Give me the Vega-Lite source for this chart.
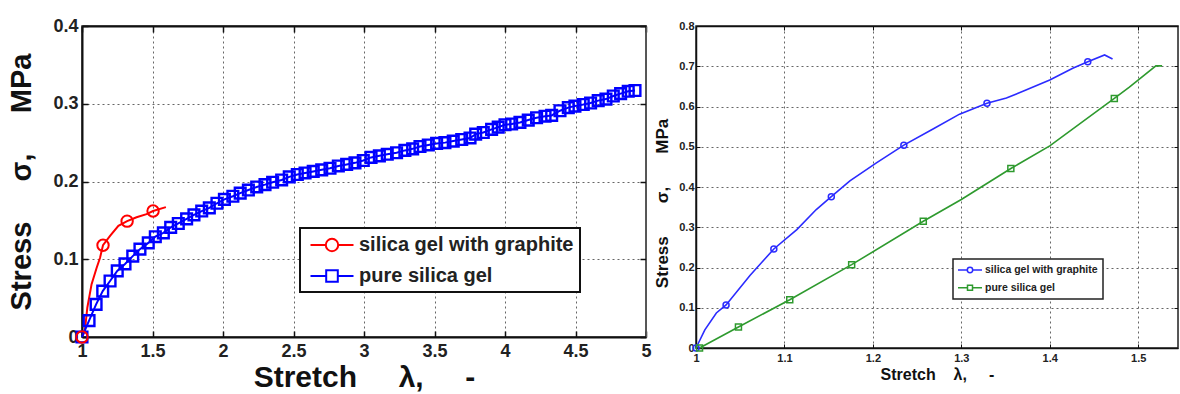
{
  "$schema": "https://vega.github.io/schema/vega-lite/v6.json",
  "background": "white",
  "padding": {"left": 7, "top": 16, "right": 0, "bottom": 0},
  "config": {
    "font": "Liberation Sans",
    "view": {"stroke": "#222", "strokeWidth": 1.5},
    "concat": {"spacing": 0},
    "axis": {
      "labelFont": "Liberation Sans",
      "labelFontWeight": "bold",
      "labelColor": "#222",
      "titleFont": "Liberation Sans",
      "titleFontWeight": "bold",
      "titleColor": "#111",
      "labelOverlap": false,
      "labelFlush": false,
      "labelBound": false,
      "tickColor": "#111",
      "domainColor": "#111",
      "gridColor": "#666",
      "gridDash": [2, 3],
      "gridWidth": 1
    }
  },
  "datasets": {
    "leftLines": [
      {"series": "silica gel with graphite", "stretch": 1.0, "stress": 0.0},
      {"series": "silica gel with graphite", "stretch": 1.02, "stress": 0.008},
      {"series": "silica gel with graphite", "stretch": 1.038, "stress": 0.038},
      {"series": "silica gel with graphite", "stretch": 1.068, "stress": 0.068},
      {"series": "silica gel with graphite", "stretch": 1.104, "stress": 0.089},
      {"series": "silica gel with graphite", "stretch": 1.128, "stress": 0.102},
      {"series": "silica gel with graphite", "stretch": 1.149, "stress": 0.118},
      {"series": "silica gel with graphite", "stretch": 1.199, "stress": 0.13},
      {"series": "silica gel with graphite", "stretch": 1.258, "stress": 0.143},
      {"series": "silica gel with graphite", "stretch": 1.32, "stress": 0.149},
      {"series": "silica gel with graphite", "stretch": 1.387, "stress": 0.154},
      {"series": "silica gel with graphite", "stretch": 1.458, "stress": 0.158},
      {"series": "silica gel with graphite", "stretch": 1.504, "stress": 0.162},
      {"series": "silica gel with graphite", "stretch": 1.595, "stress": 0.167}
    ],
    "leftRed": [
      {"series": "silica gel with graphite", "stretch": 1.0, "stress": 0.0},
      {"series": "silica gel with graphite", "stretch": 1.149, "stress": 0.118},
      {"series": "silica gel with graphite", "stretch": 1.32, "stress": 0.149},
      {"series": "silica gel with graphite", "stretch": 1.504, "stress": 0.162}
    ],
    "leftBlue": [
      {"series": "pure silica gel", "stretch": 1.0, "stress": 0.0},
      {"series": "pure silica gel", "stretch": 1.05, "stress": 0.021},
      {"series": "pure silica gel", "stretch": 1.1, "stress": 0.042},
      {"series": "pure silica gel", "stretch": 1.147, "stress": 0.059},
      {"series": "pure silica gel", "stretch": 1.199, "stress": 0.072},
      {"series": "pure silica gel", "stretch": 1.25, "stress": 0.085},
      {"series": "pure silica gel", "stretch": 1.305, "stress": 0.094},
      {"series": "pure silica gel", "stretch": 1.36, "stress": 0.104},
      {"series": "pure silica gel", "stretch": 1.411, "stress": 0.113},
      {"series": "pure silica gel", "stretch": 1.47, "stress": 0.121},
      {"series": "pure silica gel", "stretch": 1.52, "stress": 0.129},
      {"series": "pure silica gel", "stretch": 1.577, "stress": 0.134},
      {"series": "pure silica gel", "stretch": 1.629, "stress": 0.141},
      {"series": "pure silica gel", "stretch": 1.683, "stress": 0.146},
      {"series": "pure silica gel", "stretch": 1.742, "stress": 0.152},
      {"series": "pure silica gel", "stretch": 1.794, "stress": 0.157},
      {"series": "pure silica gel", "stretch": 1.849, "stress": 0.162},
      {"series": "pure silica gel", "stretch": 1.903, "stress": 0.166},
      {"series": "pure silica gel", "stretch": 1.957, "stress": 0.172},
      {"series": "pure silica gel", "stretch": 2.01, "stress": 0.177},
      {"series": "pure silica gel", "stretch": 2.07, "stress": 0.181},
      {"series": "pure silica gel", "stretch": 2.122, "stress": 0.185},
      {"series": "pure silica gel", "stretch": 2.18, "stress": 0.189},
      {"series": "pure silica gel", "stretch": 2.239, "stress": 0.193},
      {"series": "pure silica gel", "stretch": 2.298, "stress": 0.196},
      {"series": "pure silica gel", "stretch": 2.352, "stress": 0.199},
      {"series": "pure silica gel", "stretch": 2.416, "stress": 0.202},
      {"series": "pure silica gel", "stretch": 2.47, "stress": 0.206},
      {"series": "pure silica gel", "stretch": 2.527, "stress": 0.209},
      {"series": "pure silica gel", "stretch": 2.582, "stress": 0.211},
      {"series": "pure silica gel", "stretch": 2.64, "stress": 0.213},
      {"series": "pure silica gel", "stretch": 2.7, "stress": 0.215},
      {"series": "pure silica gel", "stretch": 2.759, "stress": 0.217},
      {"series": "pure silica gel", "stretch": 2.818, "stress": 0.22},
      {"series": "pure silica gel", "stretch": 2.877, "stress": 0.222},
      {"series": "pure silica gel", "stretch": 2.936, "stress": 0.224},
      {"series": "pure silica gel", "stretch": 2.995, "stress": 0.227},
      {"series": "pure silica gel", "stretch": 3.05, "stress": 0.231},
      {"series": "pure silica gel", "stretch": 3.109, "stress": 0.233},
      {"series": "pure silica gel", "stretch": 3.165, "stress": 0.235},
      {"series": "pure silica gel", "stretch": 3.231, "stress": 0.237},
      {"series": "pure silica gel", "stretch": 3.29, "stress": 0.24},
      {"series": "pure silica gel", "stretch": 3.345, "stress": 0.242},
      {"series": "pure silica gel", "stretch": 3.397, "stress": 0.245},
      {"series": "pure silica gel", "stretch": 3.456, "stress": 0.247},
      {"series": "pure silica gel", "stretch": 3.515, "stress": 0.249},
      {"series": "pure silica gel", "stretch": 3.574, "stress": 0.25},
      {"series": "pure silica gel", "stretch": 3.633, "stress": 0.252},
      {"series": "pure silica gel", "stretch": 3.693, "stress": 0.254},
      {"series": "pure silica gel", "stretch": 3.752, "stress": 0.256},
      {"series": "pure silica gel", "stretch": 3.792, "stress": 0.261},
      {"series": "pure silica gel", "stretch": 3.846, "stress": 0.263},
      {"series": "pure silica gel", "stretch": 3.905, "stress": 0.267},
      {"series": "pure silica gel", "stretch": 3.952, "stress": 0.27},
      {"series": "pure silica gel", "stretch": 4.0, "stress": 0.273},
      {"series": "pure silica gel", "stretch": 4.047, "stress": 0.274},
      {"series": "pure silica gel", "stretch": 4.106, "stress": 0.276},
      {"series": "pure silica gel", "stretch": 4.165, "stress": 0.279},
      {"series": "pure silica gel", "stretch": 4.224, "stress": 0.282},
      {"series": "pure silica gel", "stretch": 4.284, "stress": 0.284},
      {"series": "pure silica gel", "stretch": 4.331, "stress": 0.285},
      {"series": "pure silica gel", "stretch": 4.39, "stress": 0.291},
      {"series": "pure silica gel", "stretch": 4.449, "stress": 0.295},
      {"series": "pure silica gel", "stretch": 4.496, "stress": 0.297},
      {"series": "pure silica gel", "stretch": 4.555, "stress": 0.299},
      {"series": "pure silica gel", "stretch": 4.607, "stress": 0.301},
      {"series": "pure silica gel", "stretch": 4.661, "stress": 0.304},
      {"series": "pure silica gel", "stretch": 4.716, "stress": 0.306},
      {"series": "pure silica gel", "stretch": 4.768, "stress": 0.31},
      {"series": "pure silica gel", "stretch": 4.82, "stress": 0.313},
      {"series": "pure silica gel", "stretch": 4.874, "stress": 0.316},
      {"series": "pure silica gel", "stretch": 4.922, "stress": 0.317}
    ],
    "rightLines": [
      {"series": "silica gel with graphite", "stretch": 1.0, "stress": 0.0},
      {"series": "silica gel with graphite", "stretch": 1.01, "stress": 0.045},
      {"series": "silica gel with graphite", "stretch": 1.023, "stress": 0.087},
      {"series": "silica gel with graphite", "stretch": 1.034, "stress": 0.107},
      {"series": "silica gel with graphite", "stretch": 1.061, "stress": 0.18},
      {"series": "silica gel with graphite", "stretch": 1.088, "stress": 0.246},
      {"series": "silica gel with graphite", "stretch": 1.114, "stress": 0.294},
      {"series": "silica gel with graphite", "stretch": 1.136, "stress": 0.344},
      {"series": "silica gel with graphite", "stretch": 1.153, "stress": 0.376},
      {"series": "silica gel with graphite", "stretch": 1.174, "stress": 0.415},
      {"series": "silica gel with graphite", "stretch": 1.204, "stress": 0.46},
      {"series": "silica gel with graphite", "stretch": 1.235, "stress": 0.504},
      {"series": "silica gel with graphite", "stretch": 1.268, "stress": 0.544},
      {"series": "silica gel with graphite", "stretch": 1.298, "stress": 0.581},
      {"series": "silica gel with graphite", "stretch": 1.329, "stress": 0.608},
      {"series": "silica gel with graphite", "stretch": 1.351, "stress": 0.621},
      {"series": "silica gel with graphite", "stretch": 1.369, "stress": 0.637},
      {"series": "silica gel with graphite", "stretch": 1.4, "stress": 0.666},
      {"series": "silica gel with graphite", "stretch": 1.426, "stress": 0.695},
      {"series": "silica gel with graphite", "stretch": 1.443, "stress": 0.711},
      {"series": "silica gel with graphite", "stretch": 1.462, "stress": 0.728},
      {"series": "silica gel with graphite", "stretch": 1.471, "stress": 0.718},
      {"series": "pure silica gel", "stretch": 1.004, "stress": 0.0},
      {"series": "pure silica gel", "stretch": 1.048, "stress": 0.052},
      {"series": "pure silica gel", "stretch": 1.106, "stress": 0.12},
      {"series": "pure silica gel", "stretch": 1.176, "stress": 0.207},
      {"series": "pure silica gel", "stretch": 1.257, "stress": 0.315},
      {"series": "pure silica gel", "stretch": 1.3, "stress": 0.369},
      {"series": "pure silica gel", "stretch": 1.356, "stress": 0.446},
      {"series": "pure silica gel", "stretch": 1.4, "stress": 0.502},
      {"series": "pure silica gel", "stretch": 1.473, "stress": 0.62},
      {"series": "pure silica gel", "stretch": 1.49, "stress": 0.648},
      {"series": "pure silica gel", "stretch": 1.52, "stress": 0.701},
      {"series": "pure silica gel", "stretch": 1.527, "stress": 0.701}
    ],
    "rightMarkers": [
      {"series": "silica gel with graphite", "stretch": 1.0, "stress": 0.0},
      {"series": "silica gel with graphite", "stretch": 1.034, "stress": 0.107},
      {"series": "silica gel with graphite", "stretch": 1.088, "stress": 0.246},
      {"series": "silica gel with graphite", "stretch": 1.153, "stress": 0.376},
      {"series": "silica gel with graphite", "stretch": 1.235, "stress": 0.504},
      {"series": "silica gel with graphite", "stretch": 1.329, "stress": 0.608},
      {"series": "silica gel with graphite", "stretch": 1.443, "stress": 0.711},
      {"series": "pure silica gel", "stretch": 1.004, "stress": 0.0},
      {"series": "pure silica gel", "stretch": 1.048, "stress": 0.052},
      {"series": "pure silica gel", "stretch": 1.106, "stress": 0.12},
      {"series": "pure silica gel", "stretch": 1.176, "stress": 0.207},
      {"series": "pure silica gel", "stretch": 1.257, "stress": 0.315},
      {"series": "pure silica gel", "stretch": 1.356, "stress": 0.446},
      {"series": "pure silica gel", "stretch": 1.473, "stress": 0.62}
    ]
  },
  "hconcat": [
    {
      "width": 564,
      "height": 311,
      "layer": [
        {
          "data": {"name": "leftLines"},
          "mark": {"type": "line", "strokeWidth": 2, "clip": true},
          "encoding": {
            "x": {
              "field": "stretch", "type": "quantitative",
              "scale": {"domain": [1, 5], "nice": false, "zero": false},
              "axis": {
                "orient": "bottom", "values": [1, 1.5, 2, 2.5, 3, 3.5, 4, 4.5, 5], "format": "~g",
                "labelFontSize": 18, "tickSize": -6, "tickWidth": 1.5, "labelPadding": 11,
                "domainWidth": 2, "grid": true,
                "title": "Stretch\u00a0\u00a0\u00a0\u00a0\u00a0λ,\u00a0\u00a0\u00a0\u00a0\u00a0-",
                "titleFontSize": 30, "titlePadding": 2
              }
            },
            "y": {
              "field": "stress", "type": "quantitative",
              "scale": {"domain": [0, 0.4], "nice": false},
              "axis": {
                "orient": "left", "values": [0, 0.1, 0.2, 0.3, 0.4], "format": "~g",
                "labelFontSize": 18, "tickSize": -6, "tickWidth": 1.5, "labelPadding": 10,
                "domainWidth": 2, "grid": true,
                "title": "Stress\u00a0\u00a0\u00a0\u00a0\u00a0σ,\u00a0\u00a0\u00a0\u00a0\u00a0MPa",
                "titleFontSize": 29, "titlePadding": 16
              }
            },
            "color": {
              "field": "series", "type": "nominal",
              "scale": {"domain": ["silica gel with graphite", "pure silica gel"], "range": ["#ff0000", "#0000ff"]},
              "legend": {
                "orient": "none", "legendX": 218, "legendY": 202,
                "title": null, "direction": "vertical",
                "fillColor": "white", "strokeColor": "#111",
                "padding": 6, "rowPadding": 9, "labelLimit": 400,
                "labelFont": "Liberation Sans", "labelFontSize": 20, "labelFontWeight": "bold", "labelColor": "#222",
                "labelOffset": 16, "symbolSize": 400, "symbolStrokeWidth": 2, "symbolOffset": 15,
                "encode": {
                  "legend": {"update": {"strokeWidth": {"value": 2}}},
                  "symbols": {
                    "update": {
                      "shape": {"signal": "datum.value === 'pure silica gel' ? 'M-2.15,0H-0.58M0.58,0H2.15M-0.58,-0.58H0.58V0.58H-0.58Z' : 'M-2.15,0H-0.62M0.62,0H2.15M-0.62,0A0.62,0.62 0 1,1 0.62,0A0.62,0.62 0 1,1 -0.62,0Z'"},
                      "fill": {"value": "white"}
                    }
                  }
                }
              }
            }
          }
        },
        {
          "data": {"name": "leftBlue"},
          "mark": {"type": "line", "strokeWidth": 2},
          "encoding": {
            "x": {"field": "stretch", "type": "quantitative", "axis": null},
            "y": {"field": "stress", "type": "quantitative", "axis": null},
            "color": {"field": "series", "type": "nominal"}
          }
        },
        {
          "data": {"name": "leftBlue"},
          "mark": {"type": "point", "shape": "square", "filled": false, "size": 115, "strokeWidth": 2.4, "opacity": 1},
          "encoding": {
            "x": {
              "field": "stretch", "type": "quantitative",
              "axis": {"orient": "top", "values": [1, 1.5, 2, 2.5, 3, 3.5, 4, 4.5, 5], "labels": false, "title": null, "grid": false, "tickSize": -6, "tickWidth": 1.5, "domainWidth": 2}
            },
            "y": {
              "field": "stress", "type": "quantitative",
              "axis": {"orient": "right", "values": [0, 0.1, 0.2, 0.3, 0.4], "labels": false, "title": null, "grid": false, "tickSize": -6, "tickWidth": 1.5, "domainWidth": 1, "domainColor": "#555"}
            },
            "color": {"field": "series", "type": "nominal"}
          }
        },
        {
          "data": {"name": "leftRed"},
          "mark": {"type": "point", "shape": "circle", "filled": false, "size": 130, "strokeWidth": 2, "opacity": 1},
          "encoding": {
            "x": {"field": "stretch", "type": "quantitative", "axis": null},
            "y": {"field": "stress", "type": "quantitative", "axis": null},
            "color": {"field": "series", "type": "nominal"}
          }
        }
      ]
    },
    {
      "width": 482,
      "height": 322,
      "layer": [
        {
          "data": {"name": "rightLines"},
          "mark": {"type": "line", "strokeWidth": 1.6},
          "encoding": {
            "x": {
              "field": "stretch", "type": "quantitative",
              "scale": {"domain": [1, 1.545], "nice": false, "zero": false},
              "axis": {
                "orient": "bottom", "values": [1, 1.1, 1.2, 1.3, 1.4, 1.5], "format": "~g",
                "labelFontSize": 11, "tickSize": -4, "tickWidth": 1, "labelPadding": 8,
                "domainWidth": 1.5, "grid": true,
                "title": "Stretch\u00a0\u00a0\u00a0\u00a0λ,\u00a0\u00a0\u00a0\u00a0\u00a0-",
                "titleFontSize": 16, "titlePadding": 3
              }
            },
            "y": {
              "field": "stress", "type": "quantitative",
              "scale": {"domain": [0, 0.8], "nice": false},
              "axis": {
                "orient": "left", "values": [0, 0.1, 0.2, 0.3, 0.4, 0.5, 0.6, 0.7, 0.8], "format": "~g",
                "labelFontSize": 11, "tickSize": -4, "tickWidth": 1, "labelPadding": 6,
                "domainWidth": 1.5, "grid": true,
                "title": "Stress\u00a0\u00a0\u00a0\u00a0\u00a0\u00a0\u00a0σ,\u00a0\u00a0\u00a0\u00a0\u00a0\u00a0\u00a0MPa",
                "titleFontSize": 17, "titlePadding": 7, "titleY": 177
              }
            },
            "color": {
              "field": "series", "type": "nominal",
              "scale": {"domain": ["silica gel with graphite", "pure silica gel"], "range": ["#2b2bff", "#2e9a2e"]},
              "legend": {
                "orient": "none", "legendX": 257, "legendY": 233,
                "title": null, "direction": "vertical",
                "fillColor": "white", "strokeColor": "#222",
                "padding": 5, "rowPadding": 5.75, "labelLimit": 300,
                "labelFont": "Liberation Sans", "labelFontSize": 10.5, "labelFontWeight": "bold", "labelColor": "#222",
                "labelOffset": 9, "symbolSize": 100, "symbolStrokeWidth": 1.5, "symbolOffset": 6,
                "encode": {
                  "legend": {"update": {"strokeWidth": {"value": 1.5}}},
                  "symbols": {
                    "update": {
                      "shape": {"signal": "datum.value === 'pure silica gel' ? 'M-2.4,0H-0.5M0.5,0H2.4M-0.5,-0.5H0.5V0.5H-0.5Z' : 'M-2.4,0H-0.54M0.54,0H2.4M-0.54,0A0.54,0.54 0 1,1 0.54,0A0.54,0.54 0 1,1 -0.54,0Z'"},
                      "fill": {"value": "white"}
                    }
                  }
                }
              }
            }
          }
        },
        {
          "data": {"name": "rightMarkers"},
          "mark": {"type": "point", "filled": false, "size": 36, "strokeWidth": 1.5, "opacity": 1},
          "encoding": {
            "x": {
              "field": "stretch", "type": "quantitative",
              "axis": {"orient": "top", "values": [1, 1.1, 1.2, 1.3, 1.4, 1.5], "labels": false, "title": null, "grid": false, "tickSize": -4, "domainWidth": 1.5}
            },
            "y": {
              "field": "stress", "type": "quantitative",
              "axis": {"orient": "right", "values": [0, 0.1, 0.2, 0.3, 0.4, 0.5, 0.6, 0.7, 0.8], "labels": false, "title": null, "grid": false, "tickSize": -4, "domainWidth": 1, "domainColor": "#555"}
            },
            "color": {"field": "series", "type": "nominal"},
            "shape": {
              "field": "series", "type": "nominal",
              "scale": {"domain": ["silica gel with graphite", "pure silica gel"], "range": ["circle", "square"]},
              "legend": null
            }
          }
        }
      ]
    }
  ],
  "resolve": {"scale": {"color": "independent"}}
}
